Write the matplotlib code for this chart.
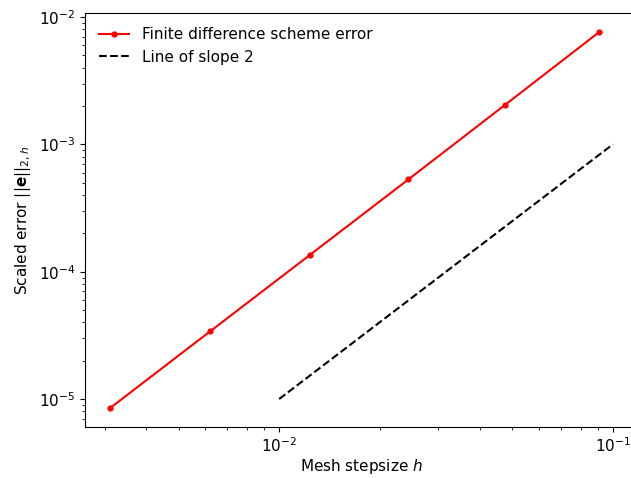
import matplotlib
matplotlib.use("Agg")
import matplotlib.pyplot as plt
import numpy as np

plt.rcParams['font.size'] = 11

N = [10, 20, 40, 80, 160, 320]
h = [1.0 / (n + 1) for n in N]
err = [7.6e-3, 2.05e-3, 5.3e-4, 1.35e-4, 3.4e-5, 8.5e-6]
ref_h = [0.01, 0.1]
ref_err = [1e-5, 1e-3]

fig = plt.figure(figsize=(6.31, 4.78), dpi=100)
ax = fig.add_axes([0.1347, 0.1071, 0.8764, 0.8649])
ax.loglog(h, err, 'r.-', markersize=7, label='Finite difference scheme error')
ax.loglog(ref_h, ref_err, 'k--', label='Line of slope 2')
ax.set_xlabel('Mesh stepsize $h$', labelpad=1)
ax.set_ylabel(r'Scaled error $||\mathbf{e}||_{2,h}$')
ax.legend(frameon=False)
fig.savefig('out.png')
